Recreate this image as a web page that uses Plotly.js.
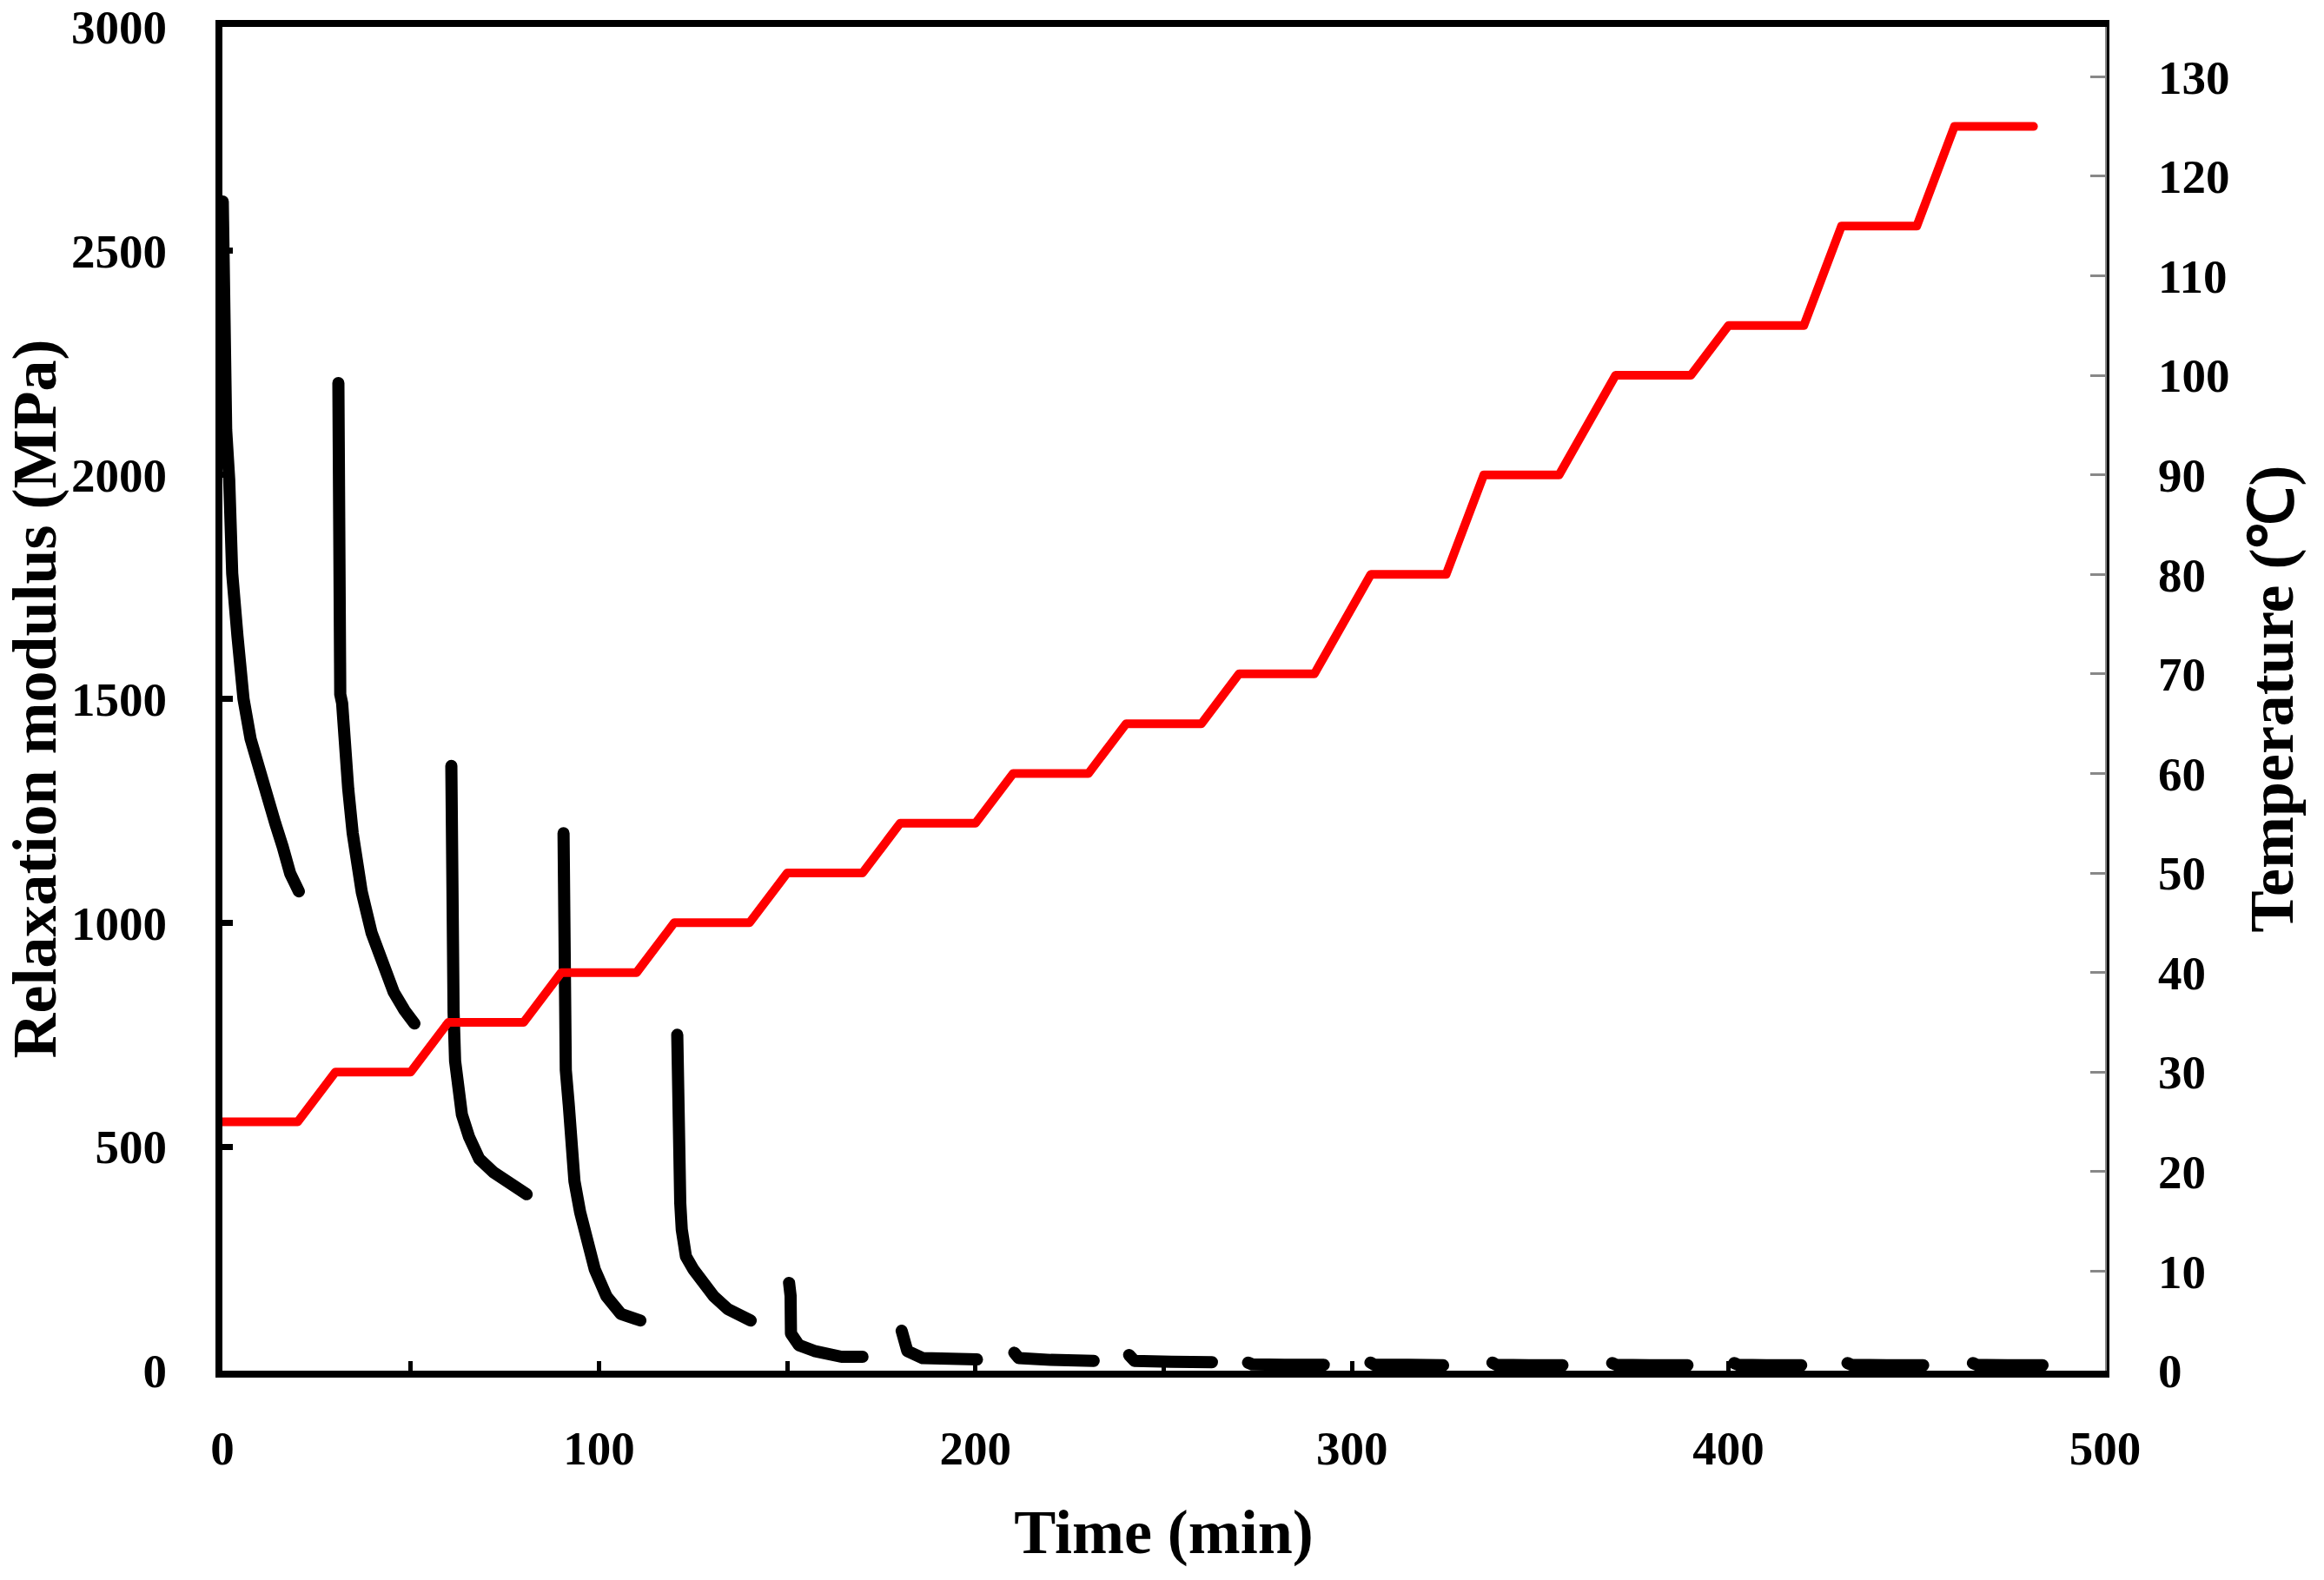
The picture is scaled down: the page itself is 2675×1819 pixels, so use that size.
<!DOCTYPE html>
<html>
<head>
<meta charset="utf-8">
<script src="https://cdn.plot.ly/plotly-3.0.1.min.js"></script>
<style>html,body{margin:0;padding:0;background:#fff;}#chart{width:2675px;height:1819px;}</style>
</head>
<body>
<div id="chart"></div>
<script>
// Relaxation modulus segments (time in min, modulus in MPa)
const seg1_t = [0.1, 0.2, 0.5, 1.0, 1.8, 2.6, 4.0, 5.6, 7.5, 9.9, 12, 14, 16, 18, 20.3];
const seg1_E = [2610, 2300, 2200, 2100, 1990, 1780, 1640, 1500, 1410, 1334, 1275, 1223, 1170, 1110, 1070];
const seg2_t = [30.8, 30.8, 31.3, 31.3, 31.8, 32.4, 33.4, 34.6, 36.0, 37.0, 39.6, 42.5, 45.5, 48.4, 51.0];
const seg2_E = [2205, 1780, 1750, 1510, 1490, 1400, 1300, 1200, 1110, 1069, 978, 906, 845, 804, 775];
const seg3_t = [60.8, 60.8, 61.4, 61.8, 62.5, 63.6, 65.5, 68.2, 72.0, 76.7, 80.8];
const seg3_E = [1350, 829, 800, 691, 621, 572, 522, 473, 443, 413, 394];
const seg4_t = [90.6, 90.6, 91.2, 92.0, 92.7, 93.5, 95.0, 96.6, 98.9, 102.0, 105.8, 111.0];
const seg4_E = [1200, 700, 671, 592, 502, 423, 354, 295, 226, 166, 127, 112];
const seg5_t = [120.8, 120.8, 121.6, 122.0, 123.1, 125.1, 127.4, 130.5, 134.3, 140.3];
const seg5_E = [750, 389, 374, 315, 255, 226, 196, 166, 137, 112];
const seg6_t = [150.5, 150.9, 151.0, 153.1, 157.2, 160.0, 164.4, 170.0];
const seg6_E = [196, 167, 83, 57, 44, 40, 31, 31];
const seg7_t = [180.4, 180.8, 181.9, 186.0, 192.0, 200.4];
const seg7_E = [89, 63, 44, 28, 26, 25];
const seg8_t = [210.3, 211.5, 220.0, 231.4];
const seg8_E = [40, 28, 24, 22];
const seg9_t = [240.8, 242.2, 252.0, 262.8];
const seg9_E = [35, 22, 20, 19];
const seg10_t = [272.4, 273.5, 282.0, 292.5];
const seg10_E = [18, 14, 13, 13];
const seg11_t = [304.9, 306.0, 315.0, 324.2];
const seg11_E = [18, 13, 13, 12];
const seg12_t = [337.3, 338.4, 347.0, 355.9];
const seg12_E = [18, 13, 12, 12];
const seg13_t = [369.1, 370.2, 379.0, 389.1];
const seg13_E = [17, 13, 12, 12];
const seg14_t = [401.5, 402.6, 410.0, 419.3];
const seg14_E = [17, 13, 12, 12];
const seg15_t = [431.6, 432.7, 442.0, 451.7];
const seg15_E = [17, 13, 12, 12];
const seg16_t = [464.9, 466.0, 474.0, 483.4];
const seg16_E = [17, 13, 12, 12];

// Temperature program
const temp_t = [0, 20, 30, 50, 60, 80, 90, 110, 120, 140, 150, 170, 180, 200, 210, 230, 240, 260, 270, 290, 305, 325, 335, 355, 370, 390, 400, 420, 430, 450, 460, 481];
const temp_C = [25, 25, 30, 30, 35, 35, 40, 40, 45, 45, 50, 50, 55, 55, 60, 60, 65, 65, 70, 70, 80, 80, 90, 90, 100, 100, 105, 105, 115, 115, 125, 125];

// Tick labels
const xTickVals = [0, 50, 100, 150, 200, 250, 300, 350, 400, 450, 500];
const xTickText = ['0', '', '100', '', '200', '', '300', '', '400', '', '500'];
const yTickVals = [0, 500, 1000, 1500, 2000, 2500, 3000];
const y2TickVals = [0, 10, 20, 30, 40, 50, 60, 70, 80, 90, 100, 110, 120, 130];

const segsT = [seg1_t, seg2_t, seg3_t, seg4_t, seg5_t, seg6_t, seg7_t, seg8_t, seg9_t, seg10_t, seg11_t, seg12_t, seg13_t, seg14_t, seg15_t, seg16_t];
const segsE = [seg1_E, seg2_E, seg3_E, seg4_E, seg5_E, seg6_E, seg7_E, seg8_E, seg9_E, seg10_E, seg11_E, seg12_E, seg13_E, seg14_E, seg15_E, seg16_E];
let mx = [], my = [];
segsT.forEach((s, i) => { mx = mx.concat(s, [null]); my = my.concat(segsE[i], [null]); });

const FONT = 'Liberation Serif, Times New Roman, serif';

const traces = [
  { x: mx, y: my, type: 'scatter', mode: 'lines', connectgaps: false,
    line: { color: '#000', width: 14, shape: 'linear' }, yaxis: 'y', hoverinfo: 'skip' },
  { x: temp_t, y: temp_C, type: 'scatter', mode: 'lines',
    line: { color: '#ff0000', width: 10 }, yaxis: 'y2', hoverinfo: 'skip' }
];

const layout = {
  width: 2675, height: 1819,
  margin: { l: 256, r: 252, t: 31, b: 241, pad: 0 },
  paper_bgcolor: '#fff', plot_bgcolor: '#fff',
  showlegend: false,
  font: { family: FONT, color: '#000' },
  xaxis: {
    range: [0, 500], tickmode: 'array', tickvals: xTickVals, ticktext: xTickText,
    ticks: 'inside', ticklen: 11, tickwidth: 5, tickcolor: '#000',
    showline: true, linewidth: 8, linecolor: '#000', mirror: true,
    showgrid: false, zeroline: false, ticklabelstandoff: 34,
    tickfont: { family: FONT, size: 55, weight: 'bold', color: '#000' },
    title: { text: 'Time (min)', standoff: 44, font: { family: FONT, size: 72, weight: 'bold', color: '#000' } }
  },
  yaxis: {
    range: [0, 3000], tickmode: 'array', tickvals: yTickVals,
    ticks: 'inside', ticklen: 12, tickwidth: 7, tickcolor: '#000',
    showline: true, linewidth: 8, linecolor: '#000',
    showgrid: false, zeroline: false, ticklabelstandoff: 45,
    tickfont: { family: FONT, size: 55, weight: 'bold', color: '#000' },
    title: { text: 'Relaxation modulus (MPa)', standoff: 6, font: { family: FONT, size: 72, weight: 'bold', color: '#000' } }
  },
  yaxis2: {
    overlaying: 'y', side: 'right', anchor: 'x',
    range: [0, 135], tickmode: 'array', tickvals: y2TickVals,
    ticks: 'inside', ticklen: 17, tickwidth: 3, tickcolor: '#888',
    showline: true, linewidth: 5, linecolor: '#888',
    showgrid: false, zeroline: false, ticklabelstandoff: 45,
    tickfont: { family: FONT, size: 55, weight: 'bold', color: '#000' },
    title: { text: 'Temperature (℃)', standoff: 25, font: { family: FONT, size: 72, weight: 'bold', color: '#000' } }
  },
  shapes: [
    { type: 'line', xref: 'paper', yref: 'paper', xsizemode: 'pixel', xanchor: 1,
      x0: 3.5, x1: 3.5, y0: -0.0026, y1: 1.0026, line: { color: '#000', width: 3 } }
  ]
};

Plotly.newPlot('chart', traces, layout, { staticPlot: true, displayModeBar: false }).then(() => {
  document.querySelectorAll('#chart .scatterlayer path.js-line').forEach(p => {
    p.style.strokeLinecap = 'round';
    p.style.strokeLinejoin = 'round';
  });
});
</script>
</body>
</html>
